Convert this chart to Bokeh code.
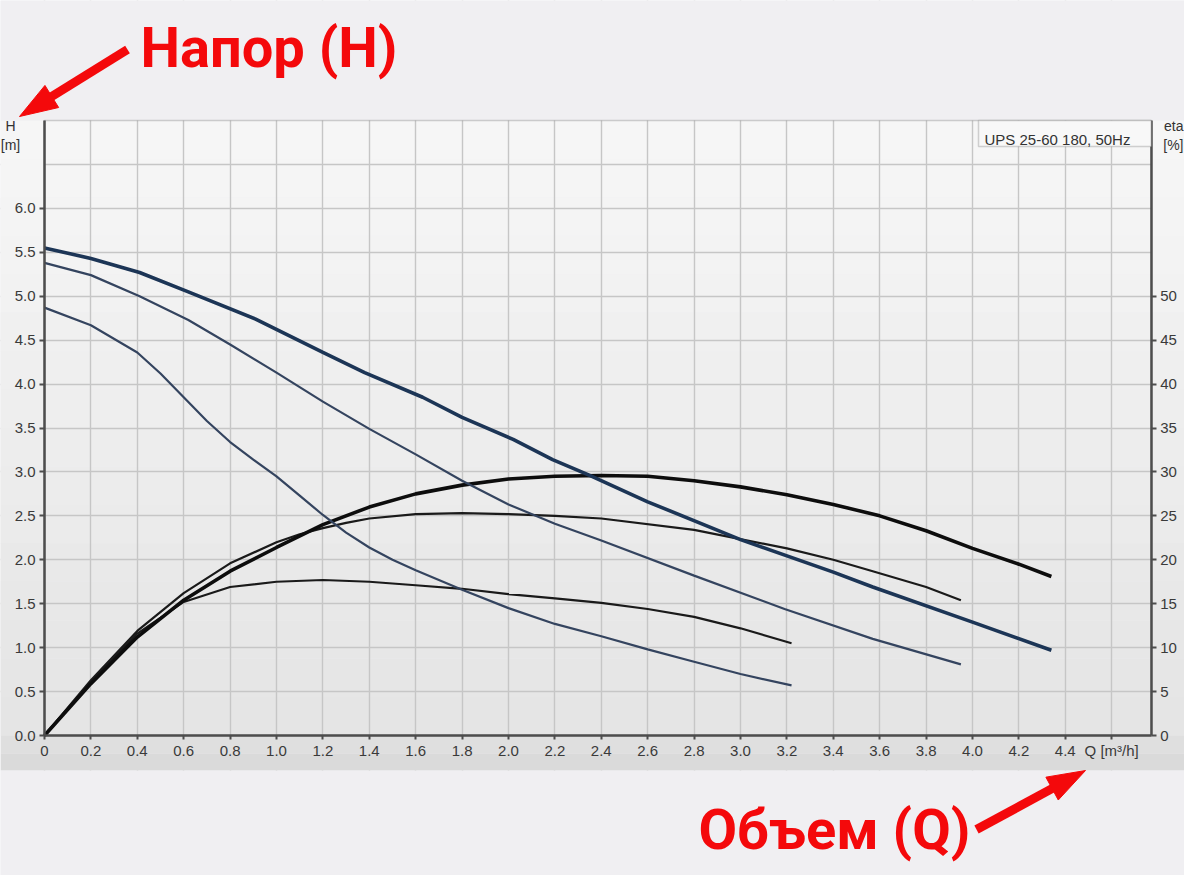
import math
from bokeh.plotting import figure
from bokeh.models import (Range1d, LinearAxis, FixedTicker, Label, BoxAnnotation,
                          NumeralTickFormatter)
from bokeh.embed import file_html
from bokeh.resources import INLINE

# ---------------- data ----------------
# Head curves H [m] for three speeds (blue)
q_h1 = [0, 0.2, 0.41, 0.62, 0.91, 1.2, 1.38, 1.63, 1.8, 2.02, 2.19, 2.35, 2.6, 3.0, 3.4, 3.57, 4.0, 4.34]
h_h1 = [5.55, 5.43, 5.27, 5.05, 4.74, 4.36, 4.13, 3.85, 3.62, 3.37, 3.14, 2.96, 2.66, 2.23, 1.86, 1.69, 1.29, 0.97]

q_h2 = [0, 0.2, 0.41, 0.62, 0.8, 1.0, 1.2, 1.4, 1.6, 1.8, 2.0, 2.2, 2.4, 2.8, 3.19, 3.57, 3.95]
h_h2 = [5.38, 5.24, 5.0, 4.73, 4.45, 4.13, 3.80, 3.49, 3.20, 2.90, 2.63, 2.41, 2.22, 1.82, 1.44, 1.10, 0.81]

q_h3 = [0, 0.2, 0.4, 0.5, 0.6, 0.7, 0.8, 0.9, 1.0, 1.1, 1.2, 1.3, 1.4, 1.5, 1.6, 1.8, 2.0, 2.2, 2.4, 2.6, 2.8, 3.0, 3.22]
h_h3 = [4.87, 4.67, 4.36, 4.12, 3.85, 3.58, 3.34, 3.14, 2.95, 2.73, 2.51, 2.31, 2.14, 2.00, 1.88, 1.66, 1.45, 1.27, 1.13, 0.98, 0.84, 0.70, 0.57]

# Efficiency curves eta [%] for three speeds (black)
q_e1 = [0, 0.2, 0.4, 0.6, 0.8, 1.0, 1.2, 1.4, 1.6, 1.8, 2.0, 2.2, 2.4, 2.6, 2.8, 3.0, 3.2, 3.4, 3.6, 3.8, 4.0, 4.2, 4.34]
e_e1 = [0, 5.9, 11.2, 15.4, 18.7, 21.4, 24.0, 26.0, 27.5, 28.5, 29.2, 29.5, 29.6, 29.5, 29.0, 28.3, 27.4, 26.3, 25.0, 23.3, 21.3, 19.5, 18.1]

q_e2 = [0, 0.2, 0.4, 0.6, 0.8, 1.0, 1.1, 1.2, 1.3, 1.4, 1.6, 1.8, 2.0, 2.2, 2.4, 2.8, 3.2, 3.4, 3.57, 3.8, 3.95]
e_e2 = [0, 6.3, 11.9, 16.2, 19.6, 22.0, 22.9, 23.6, 24.2, 24.7, 25.2, 25.3, 25.2, 25.0, 24.7, 23.4, 21.3, 20.0, 18.7, 16.9, 15.4]

q_e3 = [0, 0.2, 0.4, 0.6, 0.8, 1.0, 1.2, 1.4, 1.6, 1.8, 2.0, 2.2, 2.4, 2.6, 2.8, 3.0, 3.22]
e_e3 = [0, 6.1, 11.6, 15.2, 16.9, 17.5, 17.7, 17.5, 17.1, 16.7, 16.1, 15.6, 15.1, 14.4, 13.5, 12.2, 10.5]

# Axis ticks / labels
x_ticks = [0, 0.2, 0.4, 0.6, 0.8, 1.0, 1.2, 1.4, 1.6, 1.8, 2.0, 2.2, 2.4, 2.6, 2.8, 3.0,
           3.2, 3.4, 3.6, 3.8, 4.0, 4.2, 4.4, 4.6]
y_ticks = [0, 0.5, 1.0, 1.5, 2.0, 2.5, 3.0, 3.5, 4.0, 4.5, 5.0, 5.5, 6.0]
y_grid = [0.5, 1.0, 1.5, 2.0, 2.5, 3.0, 3.5, 4.0, 4.5, 5.0, 5.5, 6.0, 6.5]
eff_ticks = [0, 5, 10, 15, 20, 25, 30, 35, 40, 45, 50]
x_label_overrides = {0: "0", 4.6: "Q [m³/h]"}

title_text = "UPS 25-60 180, 50Hz"
head_note = "Напор (H)"
flow_note = "Объем (Q)"

# ---------------- geometry (styling / layout) ----------------
W, HGT = 1184, 875              # canvas
PX0, PY0 = 44, 735              # canvas pixel of Q=0, H=0
SX = 232.0                      # px per m3/h
SY = 615.0 / 7.0                # px per m
Q_R = 1106.7 / SX               # right edge of chart box
H_T = 7.0                       # top edge of chart box

def qx(cx):   # canvas x -> data Q
    return (cx - PX0) / SX

def hy(cy):   # canvas y -> data H
    return (PY0 - cy) / SY

XS, XE = qx(0), qx(W)
YS, YE = hy(HGT), hy(0)

RED = "#f4090b"
AX = "#4d4d4d"
FONT = "Liberation Sans"
PAGE = "#f0eff2"

p = figure(width=W, height=HGT, x_range=Range1d(XS, XE), y_range=Range1d(YS, YE),
           output_backend="svg", toolbar_location=None, min_border=0,
           background_fill_color=PAGE, border_fill_color=PAGE, outline_line_color=None)
p.extra_y_ranges = {"eff": Range1d(YS * 10, YE * 10)}

def box(l, r, b, t, color, level, **kw):
    p.add_layout(BoxAnnotation(left=l, right=r, bottom=b, top=t, fill_color=color,
                               fill_alpha=1.0, line_alpha=0, level=level, **kw))

# background of the chart screenshot: vertical gradient (style only)
n_bands = 16
top_c = (247, 247, 247)
bot_c = (228, 228, 228)
for i in range(n_bands):
    t0 = H_T - i * H_T / n_bands
    t1 = H_T - (i + 1) * H_T / n_bands
    f = (i + 0.5) / n_bands
    c = "#%02x%02x%02x" % tuple(int(round(top_c[k] + (bot_c[k] - top_c[k]) * f)) for k in range(3))
    box(XS, XE, t1, t0, c, "image")
    # side strips drawn above the grid so grid lines stop at the chart box
    box(XS, 0, t1, t0, c, "underlay")
    box(Q_R, XE, t1, t0, c, "underlay")
# band under the x axis, page colour above and below
box(XS, XE, hy(PY0 + 18), 0, "#dfdfdf", "underlay")
box(XS, XE, hy(PY0 + 35), hy(PY0 + 18), "#dadada", "underlay")
box(XS, XE, YS, hy(PY0 + 35), PAGE, "underlay")
box(XS, XE, H_T, YE, PAGE, "underlay")
# chart box outline
p.add_layout(BoxAnnotation(left=0, right=Q_R, bottom=0, top=H_T, fill_alpha=0,
                           line_color="#707070", line_width=1.5, level="underlay"))

# grid
p.xgrid.ticker = FixedTicker(ticks=x_ticks)
p.ygrid.ticker = FixedTicker(ticks=y_grid)
p.grid.grid_line_color = "#c6c6c6"
p.grid.grid_line_width = 1.4

# axes, placed at the chart box edges
p.xaxis.ticker = FixedTicker(ticks=x_ticks)
p.xaxis.formatter = NumeralTickFormatter(format="0.0")
p.xaxis.major_label_overrides = x_label_overrides
p.xaxis.fixed_location = 0
p.xaxis.bounds = (0, Q_R)
p.yaxis.ticker = FixedTicker(ticks=y_ticks)
p.yaxis.formatter = NumeralTickFormatter(format="0.0")
p.yaxis.fixed_location = 0
p.yaxis.bounds = (0, H_T)

right_axis = LinearAxis(y_range_name="eff", ticker=FixedTicker(ticks=eff_ticks),
                        fixed_location=Q_R, bounds=(0, H_T * 10))
p.add_layout(right_axis, "right")

for ax in [p.xaxis[0], p.yaxis[0], right_axis]:
    ax.axis_line_color = AX
    ax.axis_line_width = 2.5
    ax.major_tick_line_color = AX
    ax.major_tick_line_width = 2
    ax.major_tick_out = 5
    ax.major_tick_in = 0
    ax.minor_tick_line_color = None
    ax.major_label_text_font = FONT
    ax.major_label_text_font_size = "15px"
    ax.major_label_text_color = "#3a3a3a"
    ax.major_label_standoff = 4
p.xaxis.major_tick_out = 4
p.xaxis.major_label_standoff = 2

# curves: efficiency (black)
p.line(q_e3, e_e3, y_range_name="eff", line_color="#1a1a1a", line_width=2.2)
p.line(q_e2, e_e2, y_range_name="eff", line_color="#1a1a1a", line_width=2.2)
p.line(q_e1, e_e1, y_range_name="eff", line_color="#0d0d0d", line_width=3.6)

# curves: head (blue)
p.line(q_h3, h_h3, line_color="#34445f", line_width=2.2)
p.line(q_h2, h_h2, line_color="#34445f", line_width=2.2)
p.line(q_h1, h_h1, line_color="#1c3556", line_width=3.6)

# model box at the top right
p.add_layout(BoxAnnotation(left=qx(978), right=Q_R, top=H_T, bottom=hy(146),
                           fill_color="#f8f8f8", fill_alpha=1.0,
                           line_color="#707070", line_width=1.5))
p.add_layout(Label(x=qx(984), y=hy(139), text=title_text, text_font=FONT,
                   text_font_size="15px", text_color="#333333", text_baseline="alphabetic"))

# axis titles
p.add_layout(Label(x=qx(10), y=hy(117), text="H\n[m]", text_font=FONT, text_font_size="14px",
                   text_color="#333333", text_align="center", text_baseline="top"))
p.add_layout(Label(x=qx(W - 1), y=hy(117), text="eta\n[%]", text_font=FONT, text_font_size="14px",
                   text_color="#333333", text_align="right", text_baseline="top"))

# red annotations
p.add_layout(Label(x=qx(140), y=hy(47), text=head_note, text_font="Roboto", text_font_style="bold",
                   text_font_size="56px", text_color=RED, text_baseline="alphabetic"))
p.add_layout(Label(x=qx(698), y=hy(829), text=flow_note, text_font="Roboto", text_font_style="bold",
                   text_font_size="56px", text_color=RED, text_baseline="alphabetic"))

def red_arrow(tail, tip, head_len=38, head_half=13, shaft=9):
    (sx, sy), (tx, ty) = tail, tip
    d = math.hypot(tx - sx, ty - sy)
    ux, uy = (tx - sx) / d, (ty - sy) / d
    nx, ny = -uy, ux
    bx, by = tx - head_len * ux, ty - head_len * uy
    p.line([qx(sx), qx(bx + 2 * ux)], [hy(sy), hy(by + 2 * uy)],
           line_color=RED, line_width=shaft, line_cap="butt")
    p.patch([qx(tx), qx(bx + head_half * nx), qx(bx - head_half * nx)],
            [hy(ty), hy(by + head_half * ny), hy(by - head_half * ny)],
            fill_color=RED, line_color=RED, line_width=1)

red_arrow((127, 49), (19, 116))
red_arrow((976, 829), (1085, 770))

open("out.html", "w").write(file_html(p, INLINE))
